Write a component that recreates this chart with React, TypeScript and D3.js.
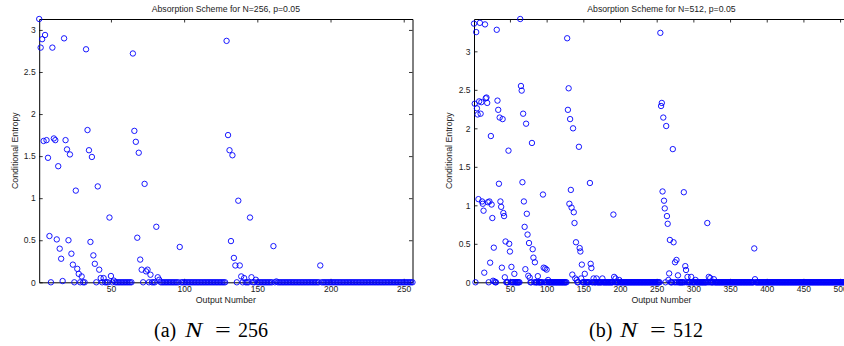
import React, { useRef, useEffect } from 'react';
import * as d3 from 'd3';

/* ── Data (index, conditional entropy); every other index is 0 ── */
const entropy256: [number, number][] = [
  [1, 3.13], [2, 2.79], [3, 2.89], [4, 1.68], [5, 2.94], [6, 1.69], [7, 1.48], [8, 0.55],
  [10, 2.79], [11, 1.71], [12, 1.69], [13, 0.51], [14, 1.38], [15, 0.4], [16, 0.28], [17, 0.015],
  [18, 2.9], [19, 1.69], [20, 1.58], [21, 0.5], [22, 1.52], [23, 0.34], [24, 0.21], [26, 1.09],
  [27, 0.16], [28, 0.1], [30, 0.07], [33, 2.77], [34, 1.81], [35, 1.57], [36, 0.48], [37, 1.49],
  [38, 0.32], [39, 0.22], [41, 1.14], [42, 0.15], [43, 0.05], [45, 0.05], [49, 0.77], [50, 0.075],
  [52, 0.02], [65, 2.72], [66, 1.8], [67, 1.67], [68, 0.53], [69, 1.54], [70, 0.27], [71, 0.15],
  [73, 1.17], [74, 0.13], [75, 0.15], [77, 0.09], [81, 0.66], [82, 0.06], [83, 0.03], [97, 0.42],
  [129, 2.87], [130, 1.75], [131, 1.57], [132, 0.49], [133, 1.51], [134, 0.29], [135, 0.2],
  [137, 0.97], [138, 0.2], [139, 0.07], [141, 0.05], [145, 0.77], [146, 0.06], [149, 0.03],
  [161, 0.43], [163, 0.01], [193, 0.2],
];

const entropy512: [number, number][] = [
  [1, 3.36], [2, 2.32], [4, 3.25], [5, 2.26], [6, 2.18], [7, 1.08], [8, 2.35], [9, 3.37],
  [10, 2.19], [11, 2.34], [12, 1.05], [13, 1.02], [14, 0.93], [15, 0.125], [16, 3.35], [17, 2.39],
  [18, 2.4], [19, 2.33], [20, 1.04], [22, 1.05], [23, 0.255], [24, 1.9], [25, 1.01], [26, 0.835],
  [27, 0.02], [28, 0.45], [29, 0.01], [32, 3.28], [33, 2.36], [34, 2.24], [35, 1.28], [36, 2.14],
  [37, 1.05], [38, 0.98], [39, 0.19], [40, 2.12], [41, 0.9], [42, 0.86], [43, 0.065], [44, 0.53],
  [48, 1.71], [49, 0.5], [50, 0.4], [52, 0.2], [56, 0.11], [64, 3.42], [65, 2.55], [66, 2.49],
  [67, 1.3], [68, 2.19], [69, 1.05], [70, 0.72], [71, 0.17], [72, 2.06], [73, 0.89], [74, 0.62],
  [75, 0.085], [76, 0.51], [77, 0.06], [80, 1.81], [81, 0.43], [82, 0.32], [84, 0.26], [88, 0.08],
  [95, 1.14], [96, 0.19], [98, 0.18], [100, 0.165], [102, 0.03], [128, 3.17], [129, 2.24],
  [130, 2.52], [131, 1.02], [132, 2.12], [133, 1.2], [134, 0.97], [135, 0.1], [136, 2.0],
  [137, 0.91], [138, 0.77], [139, 0.05], [140, 0.52], [141, 0.03], [144, 1.76], [145, 0.445],
  [146, 0.4], [147, 0.05], [148, 0.23], [152, 0.11], [159, 1.29], [160, 0.24], [161, 0.185],
  [164, 0.05], [168, 0.05], [176, 0.05], [191, 0.88], [192, 0.07], [194, 0.05], [199, 0.03],
  [255, 3.24], [256, 2.29], [257, 2.33], [258, 1.18], [259, 2.14], [260, 1.06], [261, 0.96],
  [263, 2.03], [264, 0.86], [265, 0.76], [266, 0.03], [267, 0.115], [268, 0.55], [272, 1.73],
  [273, 0.52], [275, 0.26], [277, 0.29], [279, 0.09], [287, 1.17], [289, 0.21], [290, 0.16],
  [292, 0.07], [297, 0.07], [303, 0.03], [319, 0.77], [321, 0.07], [323, 0.055], [328, 0.04],
  [383, 0.44], [384, 0.04],
];

const yTicks = [0, 0.5, 1, 1.5, 2, 2.5, 3];
const xTicks256 = [50, 100, 150, 200, 250];
const xTicks512 = [50, 100, 150, 200, 250, 300, 350, 400, 450, 500];

interface Pt {
  x: number;
  y: number;
}

const buildSeries = (n: number, nonzero: [number, number][]): Pt[] => {
  const lookup = new Map(nonzero);
  return d3.range(1, n + 1).map(i => ({ x: i, y: lookup.get(i) ?? 0 }));
};

const FONT = '"Liberation Sans", Arial, Helvetica, sans-serif';
const SERIF = '"Liberation Serif", "Times New Roman", serif';

/* ── One MATLAB-style scatter panel ───────────────────────────── */
const Panel: React.FC<{
  n: number;
  nonzero: [number, number][];
  xTicks: number[];
  left: number;
  right: number;
  title: string;
  labelX: number;
}> = ({ n, nonzero, xTicks, left, right, title, labelX }) => {
  const ref = useRef<SVGGElement | null>(null);

  useEffect(() => {
    if (!ref.current) return;
    const g = d3.select(ref.current);
    g.selectAll('*').remove();

    const data = buildSeries(n, nonzero);
    const top = 19;
    const bottom = 282.3;

    const x = d3.scaleLinear().domain([1, n]).range([left, right]);
    const y = d3
      .scaleLinear()
      .domain([0, d3.max(data, d => d.y) || 1])
      .range([bottom, top]);

    const tick = 3.5;
    const styleAxis = (sel: d3.Selection<SVGGElement, unknown, null, undefined>) => {
      sel.attr('font-family', FONT).attr('font-size', 8.5);
      sel.selectAll('path.domain').attr('stroke', '#000').attr('stroke-width', 1);
      sel.selectAll('.tick line').attr('stroke', '#000').attr('stroke-width', 0.8);
      sel.selectAll('.tick text').attr('fill', '#222');
    };

    // bottom / left with labels, top / right mirrored without
    g.append('g')
      .attr('transform', `translate(0,${bottom})`)
      .call(d3.axisBottom(x).tickValues(xTicks).tickSizeInner(-tick).tickSizeOuter(0).tickPadding(4).tickFormat(d3.format('d')))
      .call(styleAxis);
    g.append('g')
      .attr('transform', `translate(0,${top})`)
      .call(d3.axisTop(x).tickValues(xTicks).tickSizeInner(-tick).tickSizeOuter(0).tickFormat(() => ''))
      .call(styleAxis);
    g.append('g')
      .attr('transform', `translate(${left},0)`)
      .call(d3.axisLeft(y).tickValues(yTicks).tickSizeInner(-tick).tickSizeOuter(0).tickPadding(3.5).tickFormat(d3.format('')))
      .call(styleAxis);
    g.append('g')
      .attr('transform', `translate(${right},0)`)
      .call(d3.axisRight(y).tickValues(yTicks).tickSizeInner(-tick).tickSizeOuter(0).tickFormat(() => ''))
      .call(styleAxis);

    // markers (not clipped, as in MATLAB)
    g.append('g')
      .selectAll('circle')
      .data(data)
      .enter()
      .append('circle')
      .attr('cx', d => x(d.x))
      .attr('cy', d => y(d.y))
      .attr('r', 2.7)
      .attr('fill', 'none')
      .attr('stroke', '#0000ff')
      .attr('stroke-width', 0.9);

    const mid = (left + right) / 2;
    g.append('text')
      .attr('x', mid)
      .attr('y', 12)
      .attr('text-anchor', 'middle')
      .attr('font-family', FONT)
      .attr('font-size', 8.7)
      .attr('fill', '#222')
      .text(title);

    g.append('text')
      .attr('x', mid)
      .attr('y', 303)
      .attr('text-anchor', 'middle')
      .attr('font-family', FONT)
      .attr('font-size', 8.8)
      .attr('fill', '#222')
      .text('Output Number');

    g.append('text')
      .attr('transform', `translate(${labelX},${(top + bottom) / 2}) rotate(-90)`)
      .attr('text-anchor', 'middle')
      .attr('font-family', FONT)
      .attr('font-size', 8.8)
      .attr('fill', '#222')
      .text('Conditional Entropy');
  }, [n, nonzero, xTicks, left, right, title, labelX]);

  return <g ref={ref} />;
};

/* ── LaTeX-like subfigure caption ─────────────────────────────── */
const Caption: React.FC<{ cx: number; tag: string; value: string }> = ({ cx, tag, value }) => (
  <g fontFamily={SERIF} fill="#000">
    <text x={cx - 57} y={337} fontSize={20}>{`(${tag})`}</text>
    <text transform={`translate(${cx - 26},337) scale(1.3,1)`} fontSize={20} fontStyle="italic">N</text>
    <text transform={`translate(${cx + 4},337) scale(1.4,1)`} fontSize={20}>=</text>
    <text x={cx + 27} y={337} fontSize={20}>{value}</text>
  </g>
);

export default function App() {
  return (
    <svg
      width={844}
      height={346}
      style={{ position: 'absolute', left: 0, top: 0, background: '#fff', overflow: 'hidden' }}
    >
      <rect width={844} height={346} fill="#fff" />
      <Panel
        n={256}
        nonzero={entropy256}
        xTicks={xTicks256}
        left={39.2}
        right={412.5}
        title="Absorption Scheme for N=256, p=0.05"
        labelX={18}
      />
      <Panel
        n={512}
        nonzero={entropy512}
        xTicks={xTicks512}
        left={474}
        right={848.9}
        title="Absorption Scheme for N=512, p=0.05"
        labelX={452}
      />
      <Caption cx={211} tag="a" value="256" />
      <Caption cx={646} tag="b" value="512" />
    </svg>
  );
}
